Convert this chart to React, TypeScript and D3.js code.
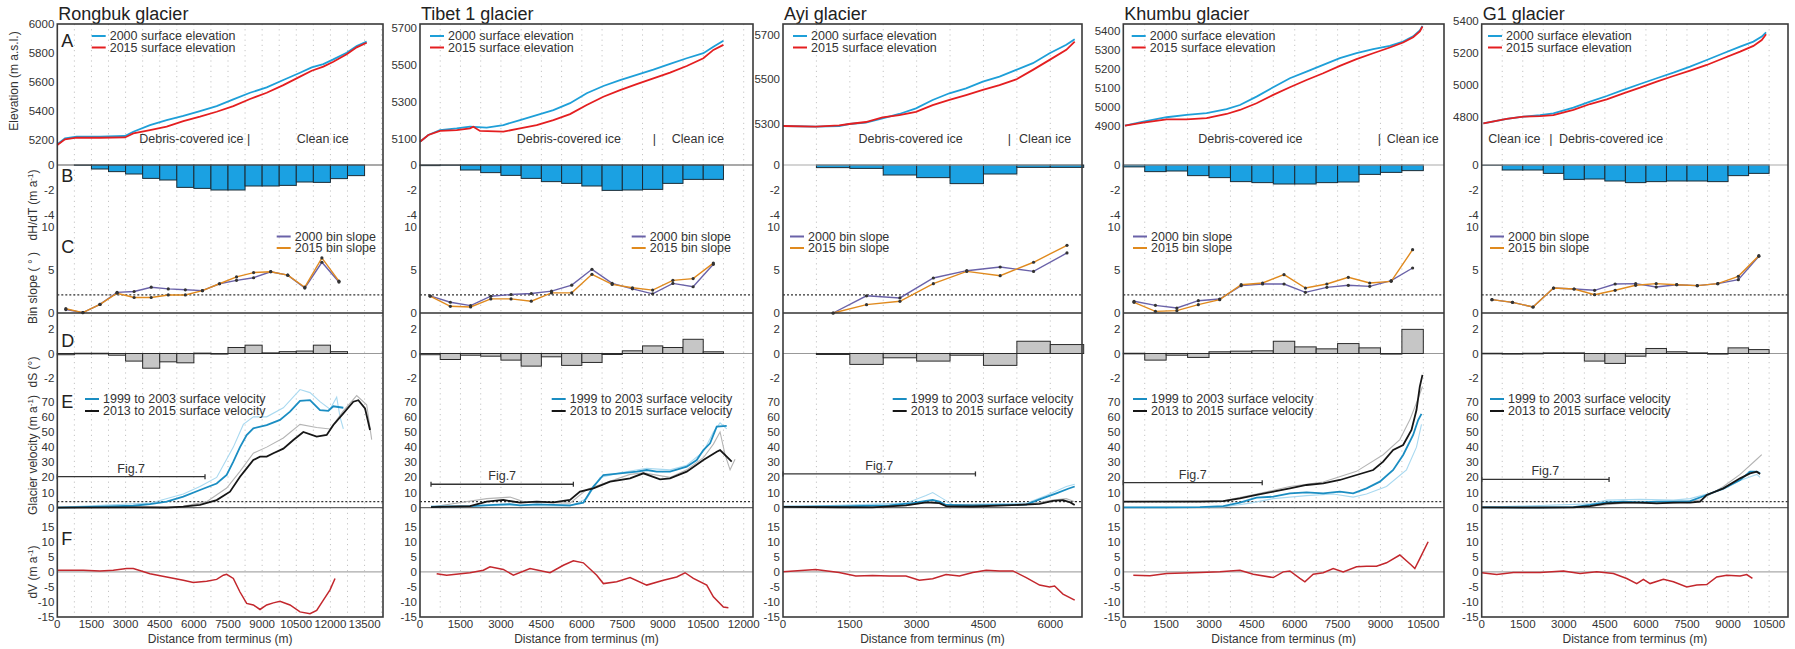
import { useEffect, useRef } from 'react';
import * as d3 from 'd3';

const WIDTH = 1795;
const HEIGHT = 649;
const BIN = 750;

const glacierNames = ['Rongbuk glacier', 'Tibet 1 glacier', 'Ayi glacier', 'Khumbu glacier', 'G1 glacier'];

const xTickLists = [
  [0, 1500, 3000, 4500, 6000, 7500, 9000, 10500, 12000, 13500],
  [0, 1500, 3000, 4500, 6000, 7500, 9000, 10500, 12000],
  [0, 1500, 3000, 4500, 6000],
  [0, 1500, 3000, 4500, 6000, 7500, 9000, 10500],
  [0, 1500, 3000, 4500, 6000, 7500, 9000, 10500],
];
const elevTickLists = [
  [5200, 5400, 5600, 5800, 6000],
  [5100, 5300, 5500, 5700],
  [5300, 5500, 5700],
  [4900, 5000, 5100, 5200, 5300, 5400],
  [4800, 5000, 5200, 5400],
];
const dHTicks = [0, -2, -4];
const slopeTicks = [0, 5, 10];
const dSTicks = [-2, 0, 2];
const velTicks = [0, 10, 20, 30, 40, 50, 60, 70];
const dVTicks = [-15, -10, -5, 0, 5, 10, 15];

// ---------- Rongbuk ----------
const rongbukElev2000 = [[0, 5172], [337, 5211], [850, 5223], [1875, 5223], [2974, 5228], [3340, 5257], [4072, 5303], [4805, 5338], [5537, 5366], [6269, 5400], [7002, 5434], [7734, 5480], [8467, 5526], [9200, 5563], [9931, 5614], [10664, 5664], [11177, 5701], [11689, 5724], [12128, 5756], [12714, 5802], [13154, 5848], [13593, 5878]];
const rongbukElev2015 = [[0, 5166], [337, 5205], [850, 5216], [1875, 5216], [2974, 5218], [3340, 5246], [4072, 5269], [4805, 5292], [5537, 5331], [6269, 5361], [7002, 5395], [7734, 5434], [8467, 5483], [9200, 5526], [9931, 5579], [10664, 5637], [11177, 5678], [11689, 5706], [12128, 5740], [12714, 5791], [13154, 5839], [13593, 5871]];
const rongbukDH = [-0.02, -0.32, -0.53, -0.72, -1.07, -1.2, -1.79, -1.87, -2.0, -2.0, -1.68, -1.68, -1.63, -1.36, -1.39, -1.09, -0.85];
const rongbukDS = [-0.1, 0.02, 0.02, -0.14, -0.62, -1.2, -0.68, -0.76, 0.03, 0.0, 0.49, 0.68, 0.05, 0.15, 0.2, 0.68, 0.15];
const rongbukSlope2000 = [0.4, 0.05, 1.0, 2.4, 2.5, 3.0, 2.8, 2.7, 2.6, 3.4, 3.8, 4.1, 4.8, 4.4, 2.9, 5.9, 3.6];
const rongbukSlope2015 = [0.5, 0.05, 1.0, 2.3, 1.8, 1.8, 2.1, 2.1, 2.6, 3.4, 4.2, 4.7, 4.8, 4.4, 3.0, 6.4, 3.7];
const rongbukVel9903 = [[0, 0], [1875, 0.7], [3340, 1.3], [4072, 2.4], [4805, 4.0], [5537, 7.3], [6269, 11.7], [7002, 16], [7441, 21.6], [7734, 30.4], [8027, 40], [8320, 48], [8613, 52.4], [9200, 54.6], [9785, 58], [10224, 63.4], [10664, 70.5], [11103, 71], [11542, 64.5], [11909, 64], [12128, 67], [12568, 66]];
const rongbukVel1315 = [[0, 0], [3340, 0.2], [4805, 0], [5537, 0.7], [6269, 1.8], [7002, 5], [7588, 10.6], [8027, 20.5], [8320, 26], [8613, 31.5], [8906, 33.7], [9200, 33.7], [9492, 36], [9931, 39], [10371, 44.7], [10810, 50], [11396, 47], [11836, 48], [12128, 54.6], [12568, 62.3], [13007, 70], [13227, 71], [13520, 65.6], [13740, 51.3]];
const rongbukVelFaintBlue = [[0, 0.3], [4072, 3], [5537, 9], [6269, 14], [7002, 20], [7734, 40], [8174, 55], [8613, 60], [9200, 60], [9931, 66], [10664, 78], [11103, 76], [11542, 70], [11982, 65], [12275, 73], [12421, 60], [12568, 52]];
const rongbukVelFaintGray = [[0, 0.3], [5537, 1], [6562, 4], [7441, 13], [8027, 24], [8613, 36], [9200, 40], [9931, 46], [10664, 55], [11396, 53], [11982, 52], [12568, 64], [13154, 74], [13594, 68], [13813, 45]];
const rongbukDV = [[0, 0.55], [1143, 0.5], [1875, 0.3], [2461, 0.5], [3047, 1.1], [3340, 1.1], [4072, -0.6], [4805, -1.7], [5537, -2.8], [5976, -3.5], [6562, -3.1], [7002, -2.5], [7295, -1.1], [7441, -0.8], [7734, -2.2], [8027, -6.7], [8320, -10.5], [8613, -11], [8906, -12.5], [9200, -11], [9492, -10.3], [9785, -9.8], [10224, -11], [10664, -13.3], [11103, -13.9], [11396, -12.8], [11689, -9.4], [11982, -6], [12202, -2.2]];

// ---------- Tibet 1 ----------
const tibetElev2000 = [[0, 5087], [309, 5123], [742, 5150], [1360, 5159], [1854, 5168], [2472, 5163], [3090, 5177], [3708, 5204], [4326, 5231], [4944, 5258], [5562, 5295], [6180, 5349], [6798, 5388], [7416, 5420], [8034, 5448], [8652, 5476], [9270, 5507], [9888, 5538], [10506, 5565], [10877, 5600], [11248, 5633]];
const tibetElev2015 = [[0, 5087], [309, 5123], [742, 5145], [1360, 5150], [1854, 5159], [1977, 5168], [2225, 5145], [3090, 5141], [3708, 5159], [4326, 5177], [4944, 5204], [5562, 5236], [6180, 5285], [6798, 5330], [7416, 5366], [8034, 5398], [8652, 5429], [9270, 5460], [9888, 5496], [10506, 5538], [10877, 5583], [11248, 5610]];
const tibetDH = [-0.05, -0.02, -0.4, -0.61, -0.83, -1.07, -1.33, -1.47, -1.68, -2.03, -2.0, -1.95, -1.47, -1.15, -1.15];
const tibetDS = [-0.1, -0.49, -0.14, -0.22, -0.54, -1.03, -0.27, -0.97, -0.73, -0.08, 0.22, 0.62, 0.49, 1.16, 0.14];
const tibetSlope2000 = [2.0, 1.25, 0.86, 1.95, 2.15, 2.27, 2.54, 3.24, 5.08, 3.44, 2.81, 2.23, 3.44, 3.05, 5.66];
const tibetSlope2015 = [1.95, 0.78, 0.7, 1.64, 1.64, 1.37, 2.34, 2.34, 4.5, 3.32, 2.93, 2.66, 3.8, 4.0, 5.8];
const tibetVel9903 = [[408, 0.7], [1854, 1.1], [2719, 1.8], [3337, 2.4], [3708, 1.5], [4326, 2.2], [4944, 1.8], [5562, 1.5], [6056, 3.3], [6427, 13.9], [6798, 21.6], [7416, 22.7], [8034, 23.8], [8405, 24.9], [8776, 23.8], [9270, 23.8], [9888, 27.1], [10259, 31.5], [10506, 38.1], [10753, 42.5], [11000, 53.5], [11371, 54]];
const tibetVel1315 = [[408, 0.4], [1854, 1.1], [2472, 4], [3090, 5.1], [3708, 3.3], [4326, 4], [4944, 3.5], [5562, 5.1], [5932, 10.6], [6427, 12.8], [7045, 17.2], [7787, 19.4], [8281, 22.7], [8899, 18.7], [9270, 19.4], [9888, 23.8], [10506, 31.5], [11000, 37], [11124, 38], [11371, 33.7], [11556, 30.4]];
const tibetVelFaintBlue = [[408, 0.5], [3090, 1.5], [5562, 1], [6180, 6], [6674, 20], [7416, 23], [8405, 26], [9270, 25], [9888, 28], [10506, 37], [10877, 50], [11124, 56], [11371, 52]];
const tibetVelFaintGray = [[408, 0.5], [2472, 6], [3337, 7], [3832, 4], [5562, 3], [6180, 12], [6798, 16], [7787, 22], [8281, 23], [9270, 20], [9888, 25], [10506, 33], [10877, 42], [11124, 50], [11309, 35], [11495, 25], [11680, 32]];
const tibetDV = [[618, -0.6], [989, -1.1], [1854, -0.3], [2349, 0.55], [2596, 1.7], [3090, 0.8], [3461, -1.1], [4079, 1.1], [4820, -0.3], [5315, 2.2], [5686, 3.7], [6056, 3.0], [6551, -1.1], [6798, -3.9], [7292, -3.3], [7787, -1.9], [8405, -4.4], [9023, -2.8], [9517, -1.7], [9826, -0.3], [10135, -2.2], [10630, -4.4], [10876, -8.3], [11247, -11.7], [11433, -11.9]];

// ---------- Ayi ----------
const ayiElev2000 = [[0, 5291], [735, 5288], [1260, 5291], [1485, 5300], [1860, 5306], [2235, 5325], [2610, 5345], [2985, 5370], [3360, 5408], [3735, 5438], [4110, 5460], [4485, 5490], [4860, 5513], [5235, 5543], [5610, 5573], [5985, 5618], [6360, 5656], [6548, 5681]];
const ayiElev2015 = [[0, 5291], [735, 5288], [1260, 5294], [1485, 5300], [1860, 5309], [2235, 5330], [2610, 5340], [2985, 5355], [3360, 5385], [3735, 5408], [4110, 5430], [4485, 5453], [4860, 5475], [5235, 5500], [5610, 5543], [5985, 5588], [6360, 5633], [6548, 5670]];
const ayiDH = [-0.21, -0.27, -0.8, -1.01, -1.49, -0.72, -0.19, -0.19];
const ayiDS = [-0.08, -0.89, -0.35, -0.62, -0.14, -0.97, 1.0, 0.73];
const ayiSlope2000 = [0, 2.0, 1.75, 4.07, 4.92, 5.35, 4.84, 6.98];
const ayiSlope2015 = [0, 0.97, 1.36, 3.41, 4.84, 4.34, 5.9, 7.87];
const ayiVel9903 = [[0, 0.7], [1260, 0.8], [2385, 1.5], [2910, 3.0], [3210, 4.5], [3360, 5.1], [3510, 4.0], [3660, 1.8], [4260, 1.5], [5010, 1.8], [5460, 2.0], [5760, 5.5], [6135, 9.5], [6400, 12.5], [6548, 14.0]];
const ayiVel1315 = [[0, 0.5], [1260, 0.3], [2010, 0.2], [2760, 1.5], [3210, 3.5], [3510, 3.0], [3660, 1.1], [4260, 0.8], [5010, 1.5], [5760, 2.5], [6060, 4.5], [6285, 5.0], [6450, 3.5], [6548, 1.8]];
const ayiVelFaintBlue = [[0, 0.5], [2760, 3], [3210, 8], [3360, 10], [3585, 6], [3810, 2], [5460, 3], [5910, 8], [6360, 14], [6548, 15.5]];
const ayiVelFaintGray = [[0, 0.3], [2760, 1.5], [3360, 4], [3660, 2], [5460, 2], [6060, 5], [6360, 6], [6548, 4]];
const ayiDV = [[0, 0], [735, 0.8], [1260, -0.2], [1635, -1.4], [2010, -1.2], [2385, -1.4], [2760, -1.4], [3060, -2.8], [3360, -2.3], [3660, -0.9], [3960, -1.4], [4260, -0.2], [4560, 0.55], [4860, 0.3], [5160, 0.3], [5460, -1.9], [5760, -4.4], [5985, -5], [6097, -4.7], [6285, -7.4], [6548, -9.4]];

// ---------- Khumbu ----------
const khumbuElev2000 = [[58, 4902], [700, 4923], [1516, 4946], [2215, 4958], [2915, 4967], [3615, 4988], [4081, 5010], [4664, 5054], [5247, 5103], [5830, 5150], [6413, 5185], [6996, 5220], [7579, 5255], [8162, 5281], [8745, 5302], [9328, 5320], [9794, 5342], [10144, 5369], [10377, 5400], [10471, 5424]];
const khumbuElev2015 = [[58, 4902], [700, 4918], [1516, 4935], [2215, 4935], [2915, 4941], [3615, 4963], [4081, 4984], [4664, 5019], [5247, 5063], [5830, 5103], [6413, 5141], [6996, 5176], [7579, 5215], [8162, 5250], [8745, 5281], [9328, 5311], [9794, 5337], [10144, 5365], [10377, 5395], [10471, 5421]];
const khumbuDH = [-0.15, -0.53, -0.48, -0.85, -1.01, -1.33, -1.41, -1.52, -1.52, -1.41, -1.36, -0.75, -0.59, -0.45];
const khumbuDS = [0.02, -0.54, -0.14, -0.32, 0.14, 0.19, 0.22, 1.0, 0.54, 0.38, 0.81, 0.46, 0.0, 1.97];
const khumbuSlope2000 = [1.36, 0.89, 0.58, 1.43, 1.63, 3.18, 3.37, 3.37, 2.4, 2.98, 3.22, 3.1, 3.76, 5.23];
const khumbuSlope2015 = [1.24, 0.19, 0.27, 0.97, 1.55, 3.29, 3.49, 4.46, 2.9, 3.37, 4.15, 3.49, 3.68, 7.36];
const khumbuVel9903 = [[0, 0.2], [1516, 0.2], [2682, 0.4], [3498, 1.1], [4081, 3.3], [4664, 6.6], [5247, 7.3], [5830, 9.5], [6413, 10.1], [6996, 9.5], [7579, 10.6], [8046, 9.5], [8512, 12.8], [8979, 17.2], [9445, 24.9], [9794, 34.8], [10144, 48], [10319, 57.9], [10436, 62]];
const khumbuVel1315 = [[0, 4], [1516, 4], [2682, 4], [3498, 4.4], [4081, 6.2], [4664, 8.4], [5247, 10.6], [5830, 12.8], [6413, 15], [6996, 16.1], [7579, 18.3], [8162, 21.6], [8745, 24.9], [9095, 30.4], [9445, 38.1], [9794, 41.4], [10086, 51.3], [10261, 64.5], [10377, 80], [10471, 87.7]];
const khumbuVelFaintBlue = [[0, 0.2], [3498, 0.5], [4431, 3], [5247, 6], [6413, 8], [7346, 9], [8045, 7], [8512, 9], [9211, 14], [9911, 25], [10261, 40], [10436, 55]];
const khumbuVelFaintGray = [[0, 4], [3498, 4.5], [4664, 9], [5830, 14], [6996, 17], [8162, 24], [9095, 35], [9678, 45], [10028, 58], [10319, 72], [10471, 80]];
const khumbuDV = [[350, -1.1], [933, -1.3], [1516, -0.55], [2682, -0.2], [3382, 0], [4081, 0.55], [4547, -0.8], [5247, -1.9], [5597, 0], [5830, 0.3], [6180, -2.2], [6355, -3.3], [6646, -0.8], [6996, -0.3], [7346, 1.1], [7696, 0], [8162, 1.7], [8512, 1.9], [8862, 1.9], [9212, 3], [9678, 5.6], [10086, 2.2], [10203, 1.1], [10377, 4.4], [10669, 10]];

// ---------- G1 ----------
const g1Elev2000 = [[61, 4758], [913, 4786], [1523, 4800], [2132, 4810], [2619, 4821], [3350, 4856], [3959, 4894], [4568, 4929], [5177, 4967], [5786, 5004], [6395, 5040], [7004, 5075], [7613, 5113], [8222, 5154], [8831, 5196], [9440, 5238], [9927, 5269], [10231, 5300], [10389, 5327]];
const g1Elev2015 = [[61, 4758], [913, 4786], [1523, 4800], [2132, 4804], [2619, 4810], [3350, 4842], [3959, 4879], [4568, 4908], [5177, 4946], [5786, 4981], [6395, 5019], [7004, 5054], [7613, 5088], [8222, 5123], [8831, 5165], [9440, 5206], [9927, 5242], [10231, 5279], [10389, 5315]];
const g1DH = [-0.03, -0.4, -0.4, -0.67, -1.15, -1.12, -1.28, -1.41, -1.33, -1.28, -1.28, -1.33, -0.85, -0.67];
const g1DS = [0.02, 0.0, 0.02, 0.05, 0.05, -0.62, -0.81, -0.22, 0.41, 0.14, 0.05, 0.0, 0.46, 0.32];
const g1Slope2000 = [1.55, 1.24, 0.7, 2.9, 2.79, 2.64, 3.37, 3.41, 3.02, 3.29, 3.18, 3.41, 3.88, 6.59];
const g1Slope2015 = [1.55, 1.24, 0.7, 2.9, 2.79, 2.13, 2.64, 3.22, 3.41, 3.29, 3.18, 3.41, 4.26, 6.67];
const g1Vel9903 = [[0, 0.2], [2132, 0.2], [3350, 0.4], [3959, 1.8], [4568, 3.5], [5177, 4], [5786, 3.5], [6395, 4], [7004, 4], [7613, 4.4], [8222, 8.4], [8831, 12.8], [9440, 18.3], [9805, 23.8], [10049, 23.8], [10170, 22.7]];
const g1Vel1315 = [[0, 0.2], [2132, 0], [3350, 0.2], [3959, 1.1], [4568, 2.9], [5177, 3.3], [5786, 3.3], [6395, 2.9], [7004, 3.3], [7613, 3.3], [7978, 4], [8222, 8.4], [8831, 12.8], [9440, 19.4], [9805, 22.7], [10049, 23.8], [10170, 22.2]];
const g1VelFaintBlue = [[0, 0.3], [3959, 2.5], [4568, 5], [5786, 5.5], [7004, 5], [7613, 6], [8831, 12], [9440, 18], [10049, 22], [10170, 20]];
const g1VelFaintGray = [[0, 0.2], [3959, 1], [5177, 3], [7004, 3], [7978, 5], [8831, 14], [9440, 22], [10049, 32], [10231, 35]];
const g1DV = [[0, -0.3], [548, -0.9], [1157, -0.2], [2132, -0.2], [2984, 0.3], [3593, -0.55], [4202, 0], [4811, -0.55], [5298, -2.2], [5664, -3.9], [5907, -2.5], [6151, -3.9], [6638, -2.5], [7004, -3.3], [7491, -5], [7856, -4.4], [8222, -4.2], [8587, -1.7], [8952, -1.1], [9440, -1.4], [9683, -0.9], [9890, -2.2]];

// first bin starts (m) for the binned series
const dHStarts = [750, 0, 750, 0, 0];
const dSStarts = [0, 0, 750, 0, 0];
const slopeStarts = [375, 375, 1125, 375, 375];
// Fig.7 extents: [from m, to m, velocity]
const fig7Ranges = [[0, 6490, 20.5], [408, 5686, 15.5], [0, 4320, 22.3], [0, 4862, 16.5], [0, 4653, 18.7]];
// ice-type annotations: [label, distance m]
const iceLabels = [
  [['Debris-covered ice', 3600], ['|', 8335], ['Clean ice', 10518]],
  [['Debris-covered ice', 3585], ['|', 8628], ['Clean ice', 9332]],
  [['Debris-covered ice', 1696], ['|', 5045], ['Clean ice', 5300]],
  [['Debris-covered ice', 2625], ['|', 8904], ['Clean ice', 9219]],
  [['Clean ice', 241], ['|', 2470], ['Debris-covered ice', 2824]],
];

// layout of the five columns (pixels) and axis domains
const columns = [
  { left: 57.3, right: 383, xMax: 14310, elev: [5028, 6000], legA: 91.7, legC: 276.7, legE: 85, bZero: '#555' },
  { left: 420, right: 753, xMax: 12345, elev: [4961, 5723], legA: 430, legC: 631.7, legE: 551.7, bZero: '#555' },
  { left: 783, right: 1082, xMax: 6712, elev: [5116, 5749], legA: 793, legC: 790, legE: 892.7, bZero: '#aaa' },
  { left: 1123.3, right: 1444, xMax: 11224, elev: [4696, 5434], legA: 1131.7, legC: 1133, legE: 1133, bZero: '#aaa' },
  { left: 1481.7, right: 1788, xMax: 11190, elev: [4498, 5379], legA: 1488, legC: 1490, legE: 1490, bZero: '#aaa' },
];

const glaciers = [
  { elev2000: rongbukElev2000, elev2015: rongbukElev2015, dH: rongbukDH, dS: rongbukDS, s2000: rongbukSlope2000, s2015: rongbukSlope2015, v1: rongbukVel9903, v2: rongbukVel1315, fb: rongbukVelFaintBlue, fg: rongbukVelFaintGray, dV: rongbukDV },
  { elev2000: tibetElev2000, elev2015: tibetElev2015, dH: tibetDH, dS: tibetDS, s2000: tibetSlope2000, s2015: tibetSlope2015, v1: tibetVel9903, v2: tibetVel1315, fb: tibetVelFaintBlue, fg: tibetVelFaintGray, dV: tibetDV },
  { elev2000: ayiElev2000, elev2015: ayiElev2015, dH: ayiDH, dS: ayiDS, s2000: ayiSlope2000, s2015: ayiSlope2015, v1: ayiVel9903, v2: ayiVel1315, fb: ayiVelFaintBlue, fg: ayiVelFaintGray, dV: ayiDV },
  { elev2000: khumbuElev2000, elev2015: khumbuElev2015, dH: khumbuDH, dS: khumbuDS, s2000: khumbuSlope2000, s2015: khumbuSlope2015, v1: khumbuVel9903, v2: khumbuVel1315, fb: khumbuVelFaintBlue, fg: khumbuVelFaintGray, dV: khumbuDV },
  { elev2000: g1Elev2000, elev2015: g1Elev2015, dH: g1DH, dS: g1DS, s2000: g1Slope2000, s2015: g1Slope2015, v1: g1Vel9903, v2: g1Vel1315, fb: g1VelFaintBlue, fg: g1VelFaintGray, dV: g1DV },
];

const TOP = 24;
const BOTTOM = 617;
const FONT = 'Liberation Sans, Arial, sans-serif';
const NARROW = 'Liberation Sans Narrow, Arial Narrow, Liberation Sans, Arial, sans-serif';

const C_ELEV00 = '#1e9fd8';
const C_ELEV15 = '#e41e20';
const C_BAR = '#1ba1e2';
const C_S00 = '#6a62a8';
const C_S15 = '#e08a1e';
const C_V1 = '#1a8dc2';
const C_V2 = '#161616';
const C_DV = '#c3272d';

function App() {
  const svgRef = useRef(null);

  useEffect(() => {
    const svg = d3.select(svgRef.current);
    svg.selectAll('*').remove();

    // vertical bands shared by every column
    const yB = d3.scaleLinear().domain([0, -4]).range([165, 215]);
    const yC = d3.scaleLinear().domain([0, 10]).range([313, 227]);
    const yD = d3.scaleLinear().domain([-2, 2]).range([378, 329]);
    const yE = d3.scaleLinear().domain([0, 70]).range([507.7, 401.7]);
    const yF = d3.scaleLinear().domain([-15, 15]).range([617, 526.7]);

    columns.forEach((col, gi) => {
      const g = glaciers[gi];
      const x = d3.scaleLinear().domain([0, col.xMax]).range([col.left, col.right]);
      const yA = d3.scaleLinear().domain(col.elev).range([165, TOP]);
      const root = svg.append('g');

      // dotted vertical grid every bin
      root.selectAll('line.grid')
        .data(d3.range(BIN, col.xMax, BIN))
        .join('line')
          .attr('x1', d => x(d)).attr('x2', d => x(d))
          .attr('y1', TOP).attr('y2', BOTTOM)
          .attr('stroke', '#c4c4c4').attr('stroke-width', 1)
          .attr('stroke-dasharray', '1.2 4');

      const hline = (y, color, w = 1, dash = null) => {
        const l = root.append('line')
          .attr('x1', col.left).attr('x2', col.right)
          .attr('y1', y).attr('y2', y)
          .attr('stroke', color).attr('stroke-width', w);
        if (dash) l.attr('stroke-dasharray', dash);
      };

      // title
      root.append('text').attr('x', col.left + 1).attr('y', 20)
        .attr('font-family', FONT).attr('font-size', 18).attr('fill', '#222')
        .text(glacierNames[gi]);

      // y tick labels
      const ticks = (scale, vals) => {
        root.selectAll(null).data(vals).join('text')
          .attr('x', col.left - 3).attr('y', d => scale(d)).attr('dy', '0.35em')
          .attr('text-anchor', 'end').attr('font-family', NARROW).attr('font-size', 11.5)
          .attr('fill', '#333').text(d => d);
      };
      ticks(yA, elevTickLists[gi]);
      ticks(yB, dHTicks);
      ticks(yC, slopeTicks);
      ticks(yD, dSTicks);
      ticks(yE, velTicks);
      ticks(yF, dVTicks);

      // x tick labels and title
      root.selectAll(null).data(xTickLists[gi]).join('text')
        .attr('x', d => x(d)).attr('y', 628)
        .attr('text-anchor', 'middle').attr('font-family', NARROW).attr('font-size', 11.5)
        .attr('fill', '#333').text(d => d);
      root.append('text').attr('x', (col.left + col.right) / 2).attr('y', 643)
        .attr('text-anchor', 'middle').attr('font-family', FONT).attr('font-size', 12)
        .attr('fill', '#333').text('Distance from terminus (m)');

      const line = d3.line().x(d => x(d[0]));

      // ---- A: elevation ----
      const lineA = line.y(d => yA(d[1]));
      root.append('path').attr('d', d3.line().x(d => x(d[0])).y(d => yA(d[1]))(g.elev2000))
        .attr('fill', 'none').attr('stroke', C_ELEV00).attr('stroke-width', 1.8);
      root.append('path').attr('d', d3.line().x(d => x(d[0])).y(d => yA(d[1]))(g.elev2015))
        .attr('fill', 'none').attr('stroke', C_ELEV15).attr('stroke-width', 1.8);
      void lineA;

      const legend = (lx, ly, color, label) => {
        root.append('line').attr('x1', lx).attr('x2', lx + 14).attr('y1', ly).attr('y2', ly)
          .attr('stroke', color).attr('stroke-width', 2);
        root.append('text').attr('x', lx + 18).attr('y', ly + 4)
          .attr('font-family', FONT).attr('font-size', 12.5).attr('fill', '#333').text(label);
      };
      legend(col.legA, 36, C_ELEV00, '2000 surface elevation');
      legend(col.legA, 47.5, C_ELEV15, '2015 surface elevation');

      iceLabels[gi].forEach(([label, d]) => {
        root.append('text').attr('x', x(d)).attr('y', 142.5)
          .attr('font-family', FONT).attr('font-size', 12.5).attr('fill', '#333').text(label);
      });

      // ---- B: dH/dT bars ----
      root.selectAll(null).data(g.dH).join('rect')
        .attr('x', (d, i) => x(dHStarts[gi] + i * BIN))
        .attr('width', (d, i) => x(dHStarts[gi] + (i + 1) * BIN) - x(dHStarts[gi] + i * BIN))
        .attr('y', yB(0))
        .attr('height', d => yB(d) - yB(0))
        .attr('fill', C_BAR).attr('stroke', '#1b2c36').attr('stroke-width', 1);
      hline(yB(0), col.bZero, 1.2);

      // ---- C: bin slope ----
      hline(yC(2.1), '#333', 1.2, '2 2');
      const slopePts = arr => arr.map((v, i) => [slopeStarts[gi] + i * BIN, v]);
      [[g.s2000, C_S00], [g.s2015, C_S15]].forEach(([arr, color]) => {
        root.append('path')
          .attr('d', d3.line().x(d => x(d[0])).y(d => yC(d[1]))(slopePts(arr)))
          .attr('fill', 'none').attr('stroke', color).attr('stroke-width', 1.4);
      });
      [g.s2000, g.s2015].forEach(arr => {
        root.selectAll(null).data(slopePts(arr)).join('circle')
          .attr('cx', d => x(d[0])).attr('cy', d => yC(d[1])).attr('r', 1.6).attr('fill', '#333');
      });
      legend(col.legC, 236.5, C_S00, '2000 bin slope');
      legend(col.legC, 248, C_S15, '2015 bin slope');
      hline(yC(0), '#333', 1.3);

      // ---- D: dS bars ----
      hline(yD(0), '#999', 1);
      root.selectAll(null).data(g.dS).join('rect')
        .attr('x', (d, i) => x(dSStarts[gi] + i * BIN))
        .attr('width', (d, i) => x(dSStarts[gi] + (i + 1) * BIN) - x(dSStarts[gi] + i * BIN))
        .attr('y', d => Math.min(yD(d), yD(0)))
        .attr('height', d => Math.max(Math.abs(yD(d) - yD(0)), 0.6))
        .attr('fill', '#c6c6c6').attr('stroke', '#2a2a2a').attr('stroke-width', 1);

      // ---- E: velocity ----
      hline(yE(0), '#666', 1.2);
      hline(yE(4), '#333', 1.2, '2 2');
      const velPath = (arr, color, w) => root.append('path')
        .attr('d', d3.line().x(d => x(d[0])).y(d => yE(d[1]))(arr))
        .attr('fill', 'none').attr('stroke', color).attr('stroke-width', w);
      velPath(g.fb, '#a9d9f0', 1.1);
      velPath(g.fg, '#b4b4b4', 1.1);
      velPath(g.v1, C_V1, 1.8);
      velPath(g.v2, C_V2, 1.8);
      legend(col.legE, 399, C_V1, '1999 to 2003 surface velocity');
      legend(col.legE, 411, C_V2, '2013 to 2015 surface velocity');

      const [f0, f1, fv] = fig7Ranges[gi];
      const fy = yE(fv);
      root.append('line').attr('x1', x(f0)).attr('x2', x(f1)).attr('y1', fy).attr('y2', fy)
        .attr('stroke', '#333').attr('stroke-width', 1.3);
      [f0, f1].forEach(d => root.append('line').attr('x1', x(d)).attr('x2', x(d))
        .attr('y1', fy - 2.5).attr('y2', fy + 2.5).attr('stroke', '#333').attr('stroke-width', 1.3));
      root.append('text').attr('x', (x(f0) + x(f1)) / 2).attr('y', fy - 4)
        .attr('text-anchor', 'middle').attr('font-family', FONT).attr('font-size', 12.5)
        .attr('fill', '#333').text('Fig.7');

      // ---- F: dV ----
      hline(yF(0), '#aaa', 1.2);
      root.append('path').attr('d', d3.line().x(d => x(d[0])).y(d => yF(d[1]))(g.dV))
        .attr('fill', 'none').attr('stroke', C_DV).attr('stroke-width', 1.5);

      // frame
      root.append('rect').attr('x', col.left).attr('y', TOP)
        .attr('width', col.right - col.left).attr('height', BOTTOM - TOP)
        .attr('fill', 'none').attr('stroke', '#3a3a3a').attr('stroke-width', 1.6);

      // panel letters and y titles only on the first column
      if (gi === 0) {
        const letters = [['A', 47], ['B', 182], ['C', 253], ['D', 347], ['E', 408], ['F', 545]];
        letters.forEach(([t, y]) => root.append('text').attr('x', col.left + 4).attr('y', y)
          .attr('font-family', FONT).attr('font-size', 18).attr('fill', '#222').text(t));

        const yTitle = (cx, cy, parts) => {
          const t = root.append('text').attr('transform', `translate(${cx},${cy}) rotate(-90)`)
            .attr('text-anchor', 'middle').attr('font-family', FONT).attr('font-size', 12)
            .attr('fill', '#333');
          parts.forEach(([s, sup]) => {
            const ts = t.append('tspan').text(s);
            if (sup) ts.attr('baseline-shift', 'super').attr('font-size', 8);
          });
        };
        yTitle(18, 81, [['Elevation (m a.s.l.)']]);
        yTitle(37, 205, [['dH/dT (m a'], ['-1', true], [')']]);
        yTitle(37, 288, [['Bin slope ( ° )']]);
        yTitle(37, 372, [['dS (°)']]);
        yTitle(37, 455, [['Glacier  velocity (m a'], ['-1', true], [')']]);
        yTitle(37, 572, [['dV (m a'], ['-1', true], [')']]);
      }
    });
  }, []);

  return (
    <svg ref={svgRef} width={WIDTH} height={HEIGHT}
      style={{ position: 'absolute', left: 0, top: 0, background: '#fff' }} />
  );
}

export default App;
